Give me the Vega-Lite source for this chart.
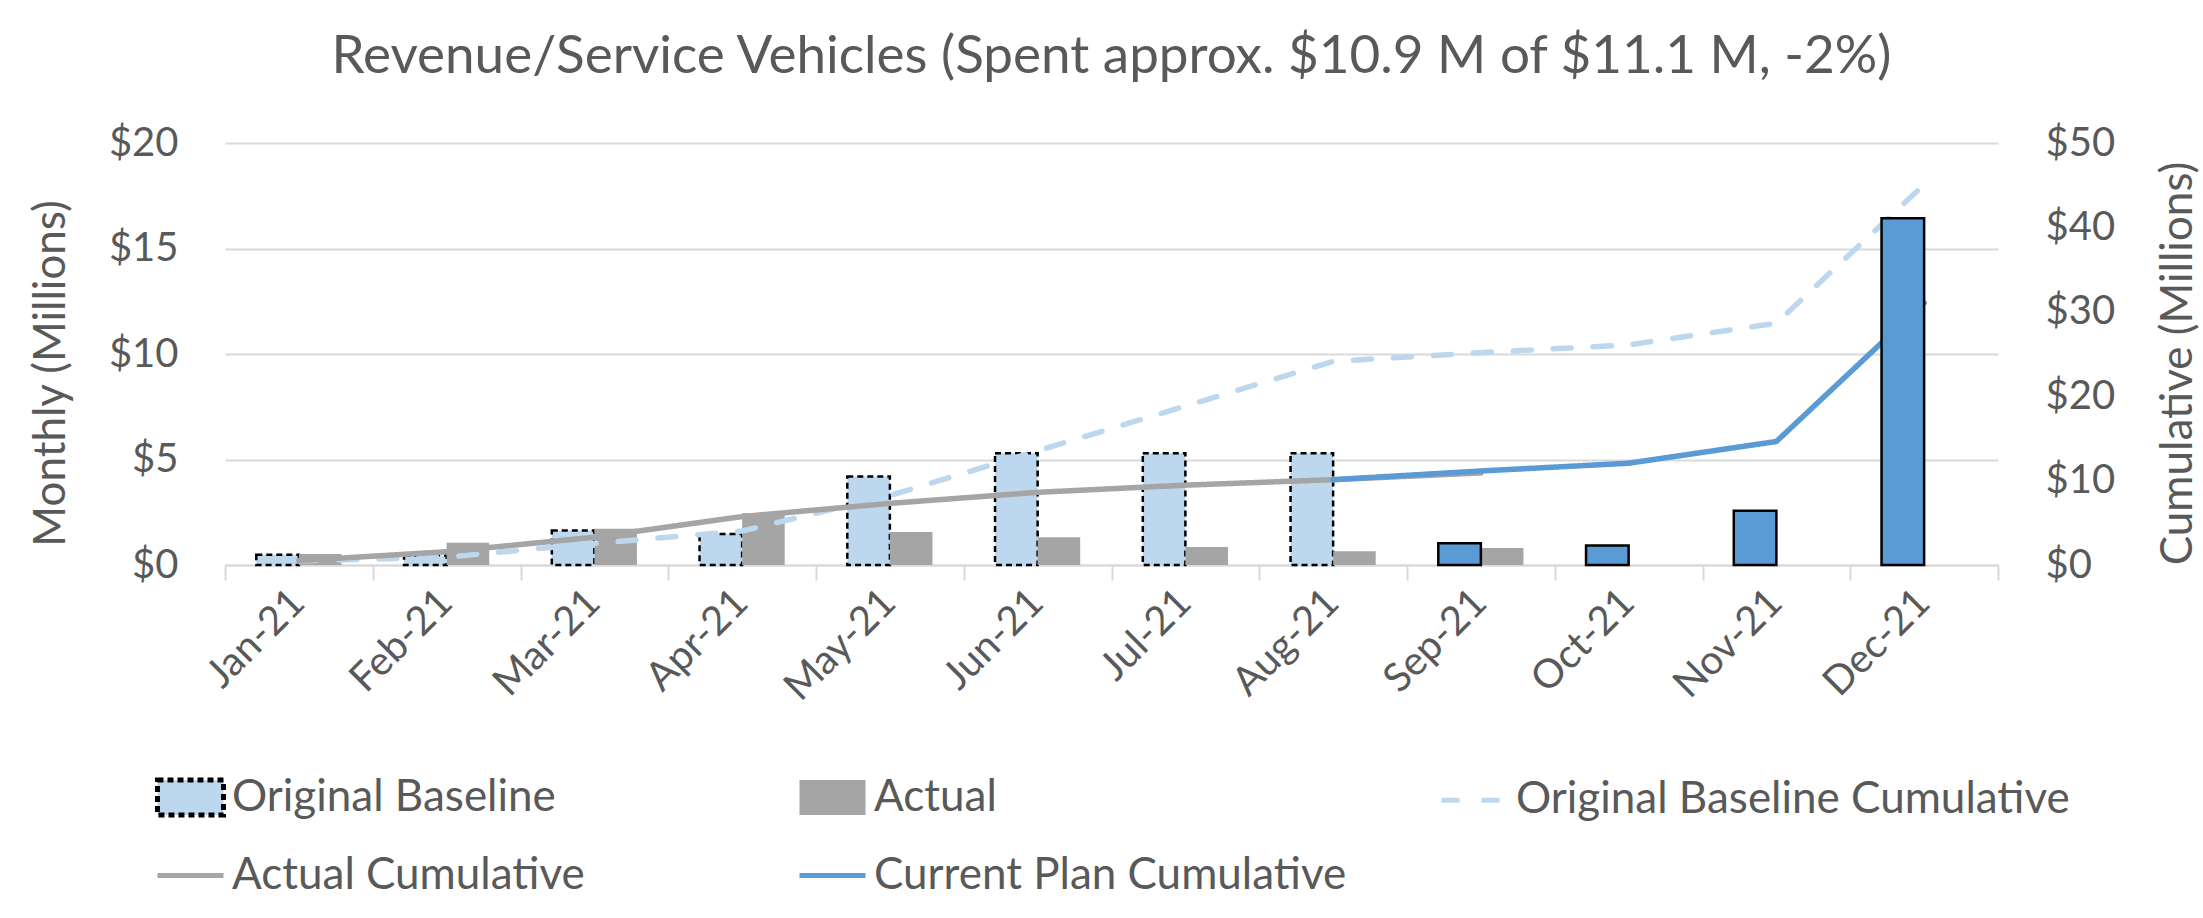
{
  "$schema": "https://vega.github.io/schema/vega-lite/v6.json",
  "width": 1773,
  "height": 422,
  "autosize": {"type": "none"},
  "padding": {"left": 225, "top": 143, "right": 205, "bottom": 353},
  "background": "white",
  "title": {
    "text": "Revenue/Service Vehicles (Spent approx. $10.9 M of $11.1 M, -2%)",
    "font": "Lato", "fontSize": 53, "fontWeight": "normal", "color": "#595959",
    "anchor": "middle", "frame": "group", "baseline": "alphabetic", "offset": -3
  },
  "config": {
    "font": "Lato",
    "view": {"stroke": null},
    "axis": {"labelFont": "Lato", "titleFont": "Lato", "labelColor": "#595959", "titleColor": "#595959", "titleFontWeight": "normal"},
    "legend": {
      "orient": "none", "legendX": -70, "legendY": 619, "direction": "horizontal",
      "columns": 3, "gridAlign": "all", "columnPadding": 3, "rowPadding": 15,
      "labelFontSize": 44, "labelFont": "Lato", "labelColor": "#595959", "labelOffset": 6,
      "labelLimit": 1000, "symbolSize": 4356, "symbolStrokeWidth": 5, "symbolOpacity": 1, "padding": 0
    }
  },
  "data": {
    "values": [
      {"month": "Jan-21", "series": "Original Baseline", "kind": "Plan", "value": 0.48},
      {"month": "Feb-21", "series": "Original Baseline", "kind": "Plan", "value": 0.45},
      {"month": "Mar-21", "series": "Original Baseline", "kind": "Plan", "value": 1.63},
      {"month": "Apr-21", "series": "Original Baseline", "kind": "Plan", "value": 1.47},
      {"month": "May-21", "series": "Original Baseline", "kind": "Plan", "value": 4.2},
      {"month": "Jun-21", "series": "Original Baseline", "kind": "Plan", "value": 5.3},
      {"month": "Jul-21", "series": "Original Baseline", "kind": "Plan", "value": 5.3},
      {"month": "Aug-21", "series": "Original Baseline", "kind": "Plan", "value": 5.3},
      {"month": "Jan-21", "series": "Actual", "kind": "Actual", "value": 0.52},
      {"month": "Feb-21", "series": "Actual", "kind": "Actual", "value": 1.05},
      {"month": "Mar-21", "series": "Actual", "kind": "Actual", "value": 1.72},
      {"month": "Apr-21", "series": "Actual", "kind": "Actual", "value": 2.45},
      {"month": "May-21", "series": "Actual", "kind": "Actual", "value": 1.56},
      {"month": "Jun-21", "series": "Actual", "kind": "Actual", "value": 1.31},
      {"month": "Jul-21", "series": "Actual", "kind": "Actual", "value": 0.85},
      {"month": "Aug-21", "series": "Actual", "kind": "Actual", "value": 0.65},
      {"month": "Sep-21", "series": "Actual", "kind": "Actual", "value": 0.8},
      {"month": "Sep-21", "series": "Current Plan", "kind": "Plan", "value": 1.03},
      {"month": "Oct-21", "series": "Current Plan", "kind": "Plan", "value": 0.92},
      {"month": "Nov-21", "series": "Current Plan", "kind": "Plan", "value": 2.57},
      {"month": "Dec-21", "series": "Current Plan", "kind": "Plan", "value": 16.43},
      {"month": "Jan-21", "series": "Original Baseline Cumulative", "value": 0.48},
      {"month": "Feb-21", "series": "Original Baseline Cumulative", "value": 0.93},
      {"month": "Mar-21", "series": "Original Baseline Cumulative", "value": 2.56},
      {"month": "Apr-21", "series": "Original Baseline Cumulative", "value": 4.03},
      {"month": "May-21", "series": "Original Baseline Cumulative", "value": 8.23},
      {"month": "Jun-21", "series": "Original Baseline Cumulative", "value": 13.53},
      {"month": "Jul-21", "series": "Original Baseline Cumulative", "value": 18.83},
      {"month": "Aug-21", "series": "Original Baseline Cumulative", "value": 24.13},
      {"month": "Sep-21", "series": "Original Baseline Cumulative", "value": 25.16},
      {"month": "Oct-21", "series": "Original Baseline Cumulative", "value": 26.08},
      {"month": "Nov-21", "series": "Original Baseline Cumulative", "value": 28.65},
      {"month": "Dec-21", "series": "Original Baseline Cumulative", "value": 45.08},
      {"month": "Jan-21", "series": "Actual Cumulative", "value": 0.52},
      {"month": "Feb-21", "series": "Actual Cumulative", "value": 1.57},
      {"month": "Mar-21", "series": "Actual Cumulative", "value": 3.29},
      {"month": "Apr-21", "series": "Actual Cumulative", "value": 5.74},
      {"month": "May-21", "series": "Actual Cumulative", "value": 7.3},
      {"month": "Jun-21", "series": "Actual Cumulative", "value": 8.61},
      {"month": "Jul-21", "series": "Actual Cumulative", "value": 9.46},
      {"month": "Aug-21", "series": "Actual Cumulative", "value": 10.11},
      {"month": "Sep-21", "series": "Actual Cumulative", "value": 10.91},
      {"month": "Aug-21", "series": "Current Plan Cumulative", "value": 10.11},
      {"month": "Sep-21", "series": "Current Plan Cumulative", "value": 11.14},
      {"month": "Oct-21", "series": "Current Plan Cumulative", "value": 12.06},
      {"month": "Nov-21", "series": "Current Plan Cumulative", "value": 14.63},
      {"month": "Dec-21", "series": "Current Plan Cumulative", "value": 31.06}
    ]
  },
  "resolve": {"scale": {"y": "independent"}, "axis": {"y": "independent"}},
  "layer": [
    {
      "transform": [{"filter": "datum.series === 'Original Baseline' || datum.series === 'Actual'"}],
      "mark": {"type": "bar"},
      "encoding": {
        "x": {
          "field": "month", "type": "ordinal", "sort": null,
          "scale": {"domain": ["Jan-21","Feb-21","Mar-21","Apr-21","May-21","Jun-21","Jul-21","Aug-21","Sep-21","Oct-21","Nov-21","Dec-21"], "paddingInner": 0, "paddingOuter": 0},
          "axis": {
            "title": null, "labelAngle": -45, "labelFontSize": 40, "labelPadding": 2, "labelOffset": -15,
            "tickBand": "extent", "ticks": true, "tickSize": 15, "tickColor": "#D9D9D9", "tickWidth": 2,
            "domainColor": "#D9D9D9", "domainWidth": 2, "grid": false
          }
        },
        "xOffset": {"field": "kind", "type": "nominal", "scale": {"domain": ["Plan", "Actual"], "paddingInner": 0, "paddingOuter": 0.735}},
        "y": {
          "field": "value", "type": "quantitative",
          "scale": {"domain": [0, 20], "nice": false},
          "axis": {
            "title": "Monthly (Millions)", "titleFontSize": 44, "titleAngle": -90, "titleBaseline": "middle",
            "titleX": -174, "titleY": 230,
            "values": [0, 5, 10, 15, 20], "format": "$.0f", "labelFontSize": 40, "labelPadding": 47,
            "ticks": false, "domain": false, "grid": true, "gridColor": "#D9D9D9", "gridWidth": 2
          }
        },
        "strokeWidth": {"value": 2.5},
        "fill": {
          "field": "series", "type": "nominal",
          "scale": {
            "domain": ["Original Baseline", "Actual", "Original Baseline Cumulative", "Actual Cumulative", "Current Plan Cumulative"],
            "range": ["#BDD7EE", "#A5A5A5", "transparent", "transparent", "transparent"]
          },
          "legend": {"title": null}
        },
        "stroke": {
          "field": "series", "type": "nominal",
          "scale": {
            "domain": ["Original Baseline", "Actual", "Original Baseline Cumulative", "Actual Cumulative", "Current Plan Cumulative"],
            "range": ["#000000", "transparent", "#BDD7EE", "#A5A5A5", "#5B9BD5"]
          },
          "legend": {"title": null}
        },
        "strokeDash": {
          "field": "series", "type": "nominal",
          "scale": {
            "domain": ["Original Baseline", "Actual", "Original Baseline Cumulative", "Actual Cumulative", "Current Plan Cumulative"],
            "range": [[6, 4], [1, 0], [18, 22], [1, 0], [1, 0]]
          },
          "legend": {"title": null}
        }
      }
    },
    {
      "transform": [{"filter": "datum.series === 'Original Baseline Cumulative' || datum.series === 'Actual Cumulative' || datum.series === 'Current Plan Cumulative'"}],
      "layer": [
        {
          "transform": [{"filter": "datum.series === 'Original Baseline Cumulative'"}],
          "mark": {"type": "line", "strokeCap": "round"},
          "encoding": {
            "x": {"field": "month", "type": "ordinal", "sort": null},
            "y": {
              "field": "value", "type": "quantitative",
              "scale": {"domain": [0, 50], "nice": false},
              "axis": {
                "orient": "right", "title": "Cumulative (Millions)", "titleFontSize": 44, "titleAngle": -90, "titleBaseline": "middle",
                "titleX": 180, "titleY": 220,
                "values": [0, 10, 20, 30, 40, 50], "format": "$.0f", "labelFontSize": 40, "labelPadding": 47,
                "ticks": false, "domain": false, "grid": false
              }
            },
            "strokeWidth": {"value": 5.5},
            "stroke": {"field": "series", "type": "nominal", "legend": {"title": null}},
            "strokeDash": {"field": "series", "type": "nominal", "legend": {"title": null}}
          }
        },
        {
          "transform": [{"filter": "datum.series === 'Actual Cumulative'"}],
          "mark": {"type": "line", "strokeCap": "round", "strokeJoin": "round"},
          "encoding": {
            "x": {"field": "month", "type": "ordinal", "sort": null},
            "y": {"field": "value", "type": "quantitative"},
            "strokeWidth": {"value": 5.5},
            "stroke": {"field": "series", "type": "nominal", "legend": {"title": null}},
            "strokeDash": {"field": "series", "type": "nominal", "legend": {"title": null}}
          }
        },
        {
          "transform": [{"filter": "datum.series === 'Current Plan Cumulative'"}],
          "mark": {"type": "line", "strokeCap": "round", "strokeJoin": "round"},
          "encoding": {
            "x": {"field": "month", "type": "ordinal", "sort": null},
            "y": {"field": "value", "type": "quantitative"},
            "strokeWidth": {"value": 5.5},
            "stroke": {"field": "series", "type": "nominal", "legend": {"title": null}},
            "strokeDash": {"field": "series", "type": "nominal", "legend": {"title": null}}
          }
        }
      ]
    },
    {
      "transform": [{"filter": "datum.series === 'Current Plan'"}],
      "mark": {"type": "bar", "fill": "#5B9BD5", "stroke": "#000000", "strokeWidth": 2.5},
      "encoding": {
        "x": {"field": "month", "type": "ordinal", "sort": null},
        "xOffset": {"field": "kind", "type": "nominal"},
        "y": {"field": "value", "type": "quantitative", "scale": {"domain": [0, 20], "nice": false}, "axis": null}
      }
    },
    {
      "transform": [{"filter": "datum.series === 'Original Baseline Cumulative'"}],
      "mark": {"type": "point", "size": 0},
      "encoding": {
        "x": {"field": "month", "type": "ordinal", "sort": null},
        "y": {"field": "value", "type": "quantitative", "scale": {"domain": [0, 50], "nice": false}, "axis": null},
        "shape": {
          "field": "series", "type": "nominal",
          "scale": {
            "domain": ["Original Baseline", "Actual", "Original Baseline Cumulative", "Actual Cumulative", "Current Plan Cumulative"],
            "range": ["M-1,-0.53H1V0.53H-1Z", "M-1,-0.53H1V0.53H-1Z", "stroke", "stroke", "stroke"]
          },
          "legend": {"title": null}
        }
      }
    }
  ]
}
